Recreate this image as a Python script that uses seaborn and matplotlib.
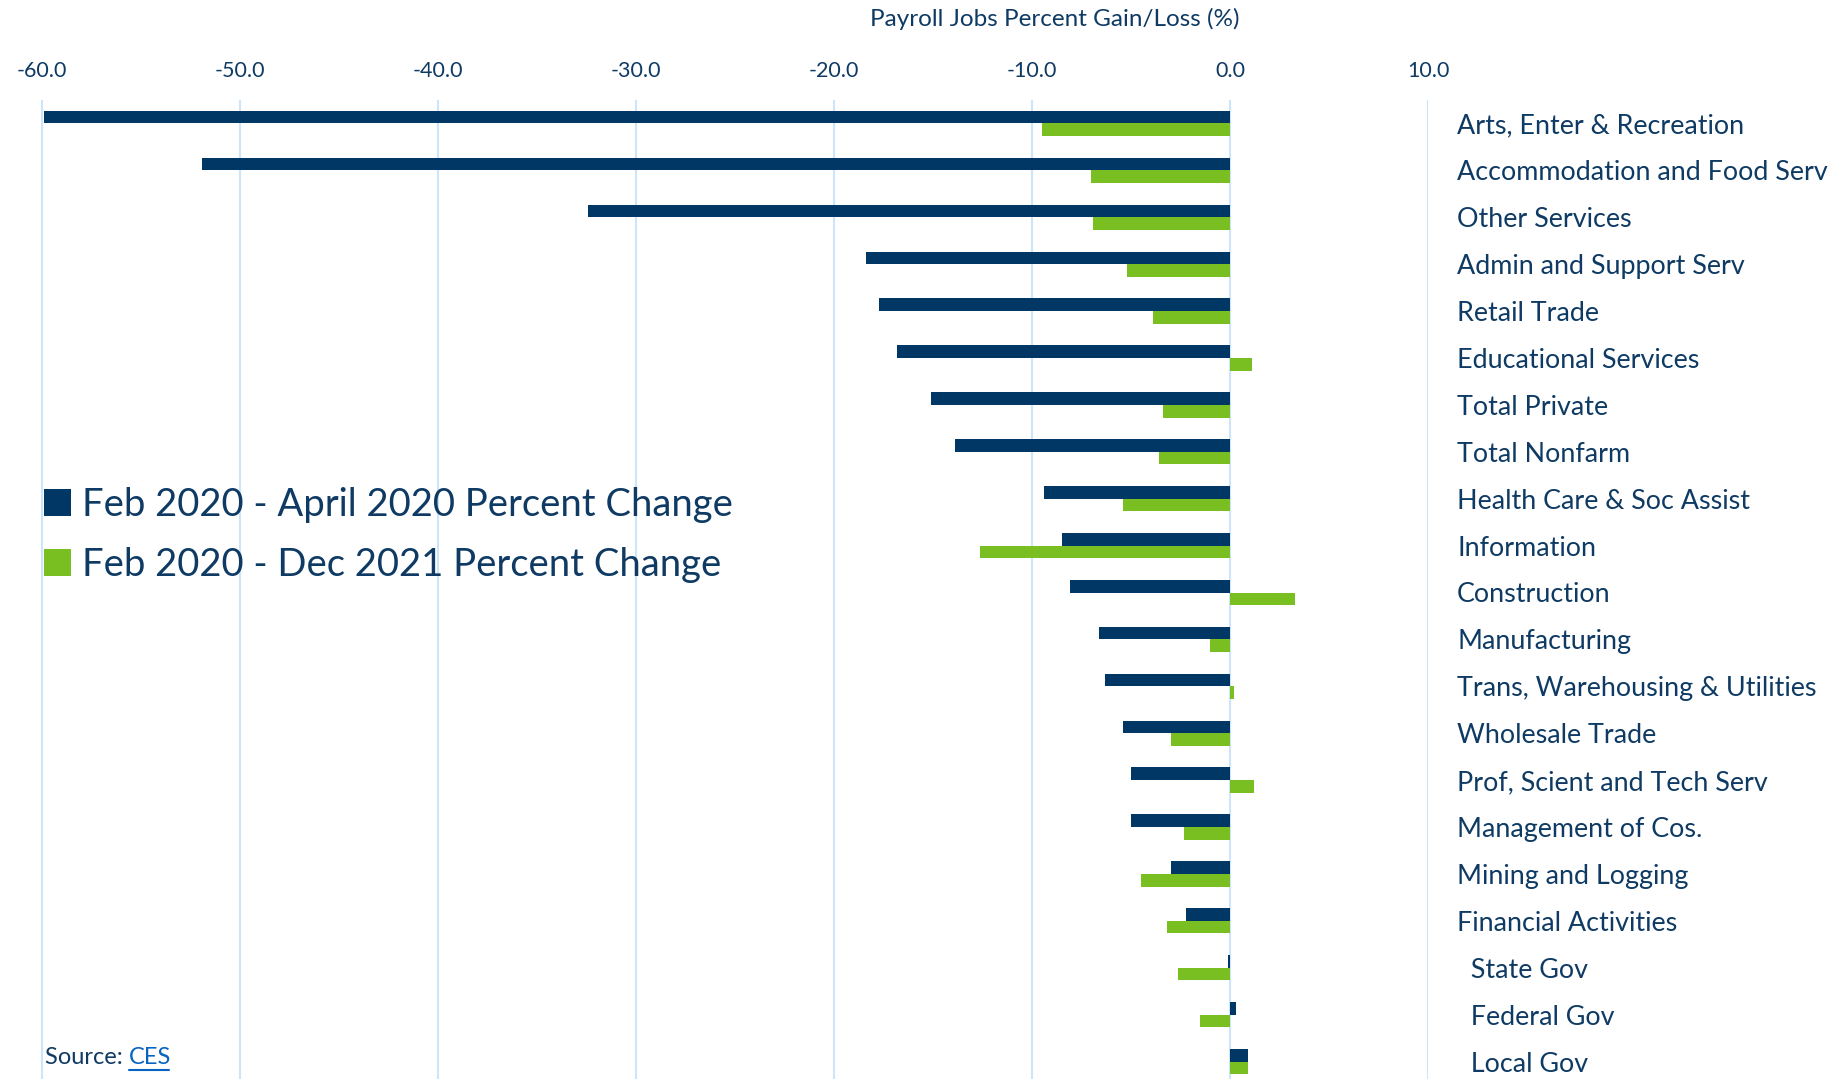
import matplotlib
matplotlib.use("Agg")
import matplotlib.pyplot as plt
import seaborn as sns
import pandas as pd
from matplotlib.patches import Patch

categories = ["Arts, Enter & Recreation", "Accommodation and Food Serv", "Other Services",
              "Admin and Support Serv", "Retail Trade", "Educational Services", "Total Private",
              "Total Nonfarm", "Health Care & Soc Assist", "Information", "Construction",
              "Manufacturing", "Trans, Warehousing & Utilities", "Wholesale Trade",
              "Prof, Scient and Tech Serv", "Management of Cos.", "Mining and Logging",
              "Financial Activities", "  State Gov", "  Federal Gov", "  Local Gov"]
apr2020 = [-59.9, -51.9, -32.4, -18.4, -17.7, -16.8, -15.1, -13.9, -9.4, -8.5, -8.1,
           -6.6, -6.3, -5.4, -5.0, -5.0, -3.0, -2.2, -0.1, 0.3, 0.9]
dec2021 = [-9.5, -7.0, -6.9, -5.2, -3.9, 1.1, -3.4, -3.6, -5.4, -12.6, 3.3,
           -1.0, 0.2, -3.0, 1.2, -2.3, -4.5, -3.2, -2.6, -1.5, 0.9]
series = ["Feb 2020 - April 2020 Percent Change", "Feb 2020 - Dec 2021 Percent Change"]
xticks = [-60, -50, -40, -30, -20, -10, 0, 10]

NAVY = "#003764"
GREEN = "#7ABF22"
TEXT = "#0E3A63"
GRID = "#CDE5FA"

df = pd.DataFrame({
    "cat": categories * 2,
    "val": apr2020 + dec2021,
    "series": [series[0]] * len(categories) + [series[1]] * len(categories),
})

sns.set_style("white")
plt.rcParams["font.family"] = ["Lato", "DejaVu Sans"]

W, H = 1837, 1079
fig = plt.figure(figsize=(W / 100, H / 100), dpi=100)
ax_left, ax_right = 2 / W, 1428 / W
ax_top, ax_bot = 100 / H, 1085 / H
ax = fig.add_axes([ax_left, 1 - ax_bot, ax_right - ax_left, ax_bot - ax_top])

sns.barplot(data=df, y="cat", x="val", hue="series", orient="h",
            palette=[NAVY, GREEN], width=0.54, ax=ax, legend=False,
            linewidth=0, edgecolor="none", saturation=1)

ax.set_xlim(-62, 10)
ax.set_ylim(len(categories) - 0.5, -0.5)
ax.set_xticks(xticks)
ax.set_xticklabels([f"{v:.1f}" for v in xticks], color=TEXT, fontsize=15.5)
ax.xaxis.tick_top()
ax.tick_params(axis="x", length=0, pad=14)
ax.grid(axis="x", color=GRID, linewidth=1.5)
ax.set_axisbelow(True)
for s in ax.spines.values():
    s.set_visible(False)

ax.yaxis.tick_right()
ax.tick_params(axis="y", length=0, pad=21)
ax.set_yticks(range(len(categories)))
ax.set_yticklabels(categories, color=TEXT, fontsize=19.4, ha="left")
ax.set_xlabel("")
ax.set_ylabel("")

fig.text(1055 / W, 1 - 19 / H, "Payroll Jobs Percent Gain/Loss (%)", ha="center", va="center",
         color=TEXT, fontsize=17.5)

handles = [Patch(facecolor=NAVY, edgecolor="none"), Patch(facecolor=GREEN, edgecolor="none")]
fig.legend(handles, series, loc="center left", bbox_to_anchor=(44 / W, 1 - 535 / H),
           frameon=False, fontsize=27.5, labelcolor=TEXT, handlelength=0.7, handleheight=0.7,
           handletextpad=0.3, labelspacing=0.62, borderaxespad=0, borderpad=0)

t = fig.text(45 / W, 1 - 1058 / H, "Source: ", ha="left", va="center", color=TEXT, fontsize=17)
fig.canvas.draw()
bb = t.get_window_extent()
fig.text(bb.x1 / W, 1 - 1058 / H, "CES", ha="left", va="center", color="#0563C1", fontsize=17)
fig.add_artist(plt.Line2D([bb.x1 / W, (bb.x1 + 40) / W], [1 - 1070 / H, 1 - 1070 / H],
                          color="#0563C1", linewidth=1.5))

fig.savefig("out.png", dpi=100)
